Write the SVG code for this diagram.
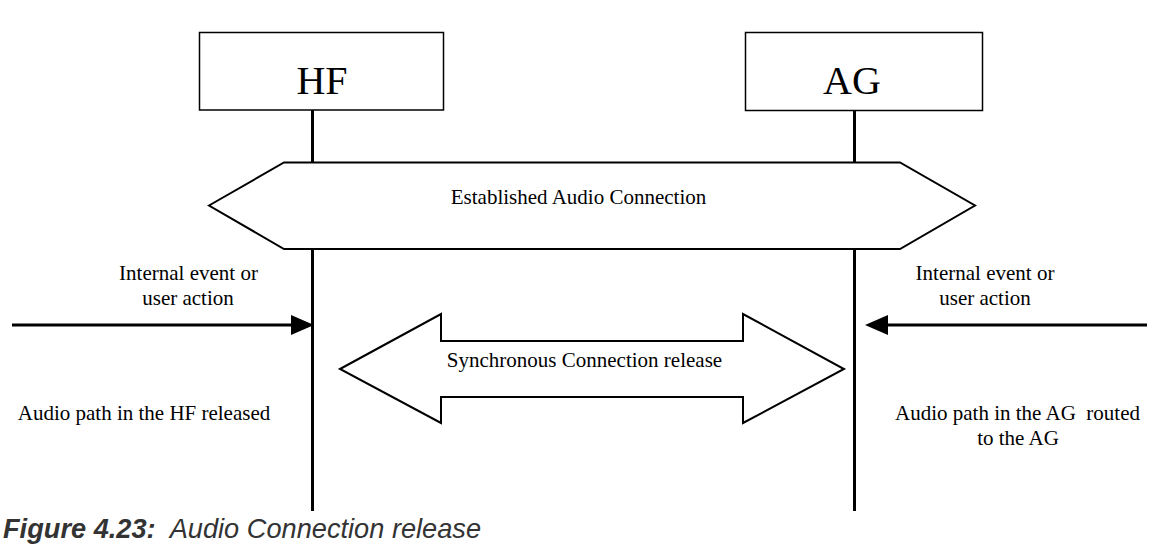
<svg xmlns="http://www.w3.org/2000/svg" width="1158" height="549" viewBox="0 0 1158 549">
<style>
.box{fill:#fff;stroke:#000;stroke-width:1.5}
.shape{fill:#fff;stroke:#000;stroke-width:2;stroke-linejoin:miter}
.life{stroke:#000;stroke-width:3;fill:none}
.arr{stroke:#000;stroke-width:3;fill:none}
.t{font-family:"Liberation Serif","Times New Roman",serif;fill:#000;text-anchor:middle}
.big{font-size:40px}
.sm{font-size:21px}
.cap{font-family:"Liberation Sans",Arial,sans-serif;font-size:27.2px;font-style:italic;fill:#333}
</style>
<rect width="1158" height="549" fill="#fff"/>
<g id="connectors">
<line class="life" x1="312.5" y1="110" x2="312.5" y2="511"/>
<line class="life" x1="854.5" y1="111" x2="854.5" y2="511"/>
<line class="arr" x1="12" y1="325" x2="292" y2="325"/>
<polygon points="291,315 314,325 291,335" fill="#000"/>
<line class="arr" x1="887" y1="325" x2="1147" y2="325"/>
<polygon points="888,315 865,325 888,335" fill="#000"/>
</g>
<g id="hf">
<rect class="box" x="199.5" y="32.5" width="244" height="77.5"/>
<text class="t big" x="322" y="94">HF</text>
</g>
<g id="ag">
<rect class="box" x="745.5" y="32.5" width="237" height="78"/>
<text class="t big" x="852" y="94">AG</text>
</g>
<g id="established">
<polygon class="shape" points="209,205.5 284,162.5 900,162.5 975,205.5 900,249 284,249"/>
<text class="t sm" x="578.5" y="204">Established Audio Connection</text>
</g>
<g id="sync">
<polygon class="shape" points="340,369 441,314 441,341 743,341 743,314 844,369 743,423 743,397 441,397 441,423"/>
<text class="t sm" x="584.5" y="366.5">Synchronous Connection release</text>
</g>
<g id="hf-event">
<text class="t sm" x="188.5" y="279.5">Internal event or</text>
<text class="t sm" x="188" y="304.5">user action</text>
</g>
<g id="ag-event">
<text class="t sm" x="985" y="279.5">Internal event or</text>
<text class="t sm" x="985" y="304.5">user action</text>
</g>
<g id="hf-audio">
<text class="t sm" x="144" y="420">Audio path in the HF released</text>
</g>
<g id="ag-audio">
<text class="t sm" x="1017.5" y="420" xml:space="preserve">Audio path in the AG  routed</text>
<text class="t sm" x="1018" y="445">to the AG</text>
</g>
<g id="caption">
<text class="cap" x="3" y="538" xml:space="preserve"><tspan font-weight="bold">Figure 4.23:</tspan>  Audio Connection release</text>
</g>
</svg>
